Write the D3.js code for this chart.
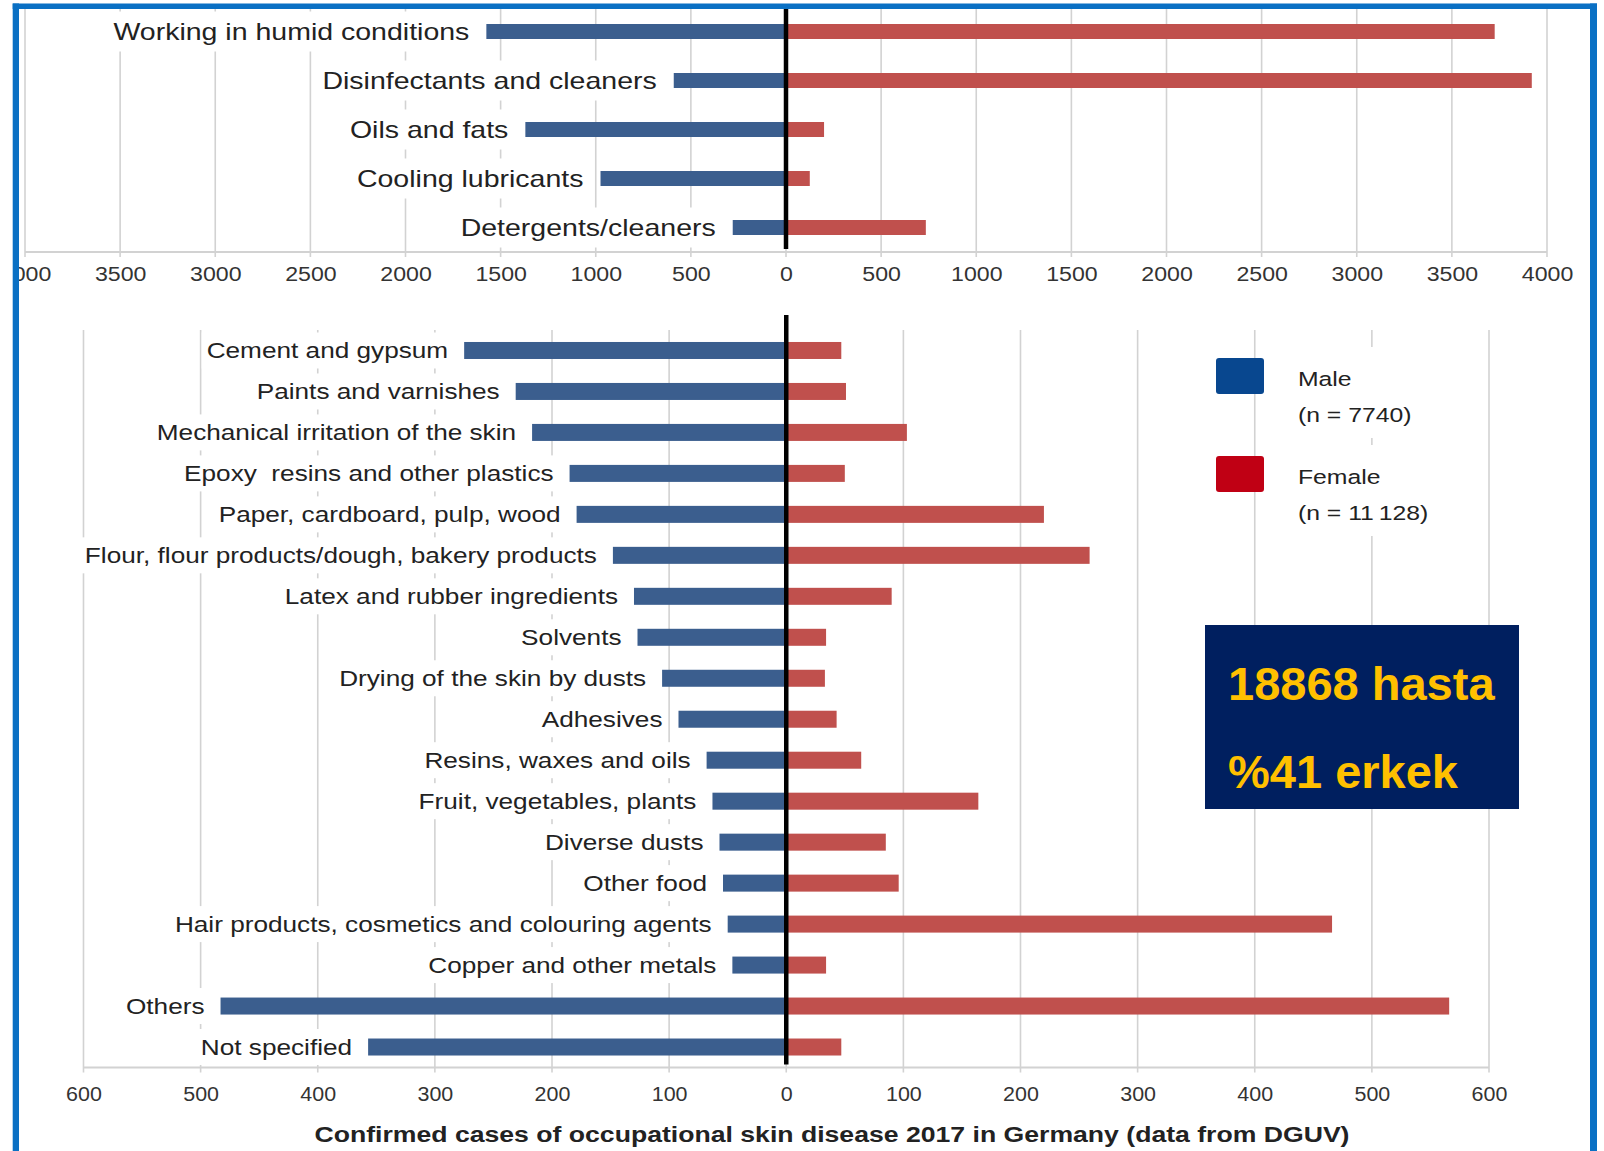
<!DOCTYPE html>
<html>
<head>
<meta charset="utf-8">
<script src="https://cdn.jsdelivr.net/npm/d3@7/dist/d3.min.js"></script>
<style>
  html, body { margin: 0; padding: 0; background: #fff; }
  svg { display: block; font-family: "Liberation Sans", Arial, sans-serif; }
</style>
</head>
<body>
<svg id="chart" width="1604" height="1151"></svg>
<script>
// ---------- DATA ----------
const topCategories = [
  "Working in humid conditions",
  "Disinfectants and cleaners",
  "Oils and fats",
  "Cooling lubricants",
  "Detergents/cleaners"
];
const topMale   = [1575, 590, 1370, 975, 280];
const topFemale = [3725, 3920, 200, 125, 735];
const topTicks  = [-4000,-3500,-3000,-2500,-2000,-1500,-1000,-500,0,500,1000,1500,2000,2500,3000,3500,4000];

const bottomCategories = [
  "Cement and gypsum",
  "Paints and varnishes",
  "Mechanical irritation of the skin",
  "Epoxy  resins and other plastics",
  "Paper, cardboard, pulp, wood",
  "Flour, flour products/dough, bakery products",
  "Latex and rubber ingredients",
  "Solvents",
  "Drying of the skin by dusts",
  "Adhesives",
  "Resins, waxes and oils",
  "Fruit, vegetables, plants",
  "Diverse dusts",
  "Other food",
  "Hair products, cosmetics and colouring agents",
  "Copper and other metals",
  "Others",
  "Not specified"
];
const bottomMale   = [275, 231, 217, 185, 179, 148, 130, 127, 106, 92, 68, 63, 57, 54, 50, 46, 483, 357];
const bottomFemale = [47, 51, 103, 50, 220, 259, 90, 34, 33, 43, 64, 164, 85, 96, 466, 34, 566, 47];
const bottomTicks  = [-600,-500,-400,-300,-200,-100,0,100,200,300,400,500,600];

const legendLabels = ["Male", "Female"];
const legendCounts = ["(n = 7740)", "(n = 11\u2009128)"];
const summaryLines = ["18868 hasta", "%41 erkek"];
const xTitle = "Confirmed cases of occupational skin disease 2017 in Germany (data from DGUV)";

// ---------- STYLE ----------
const MALE = "#3b5e8e", FEMALE = "#c0504d";
const LEG_MALE = "#08478f", LEG_FEMALE = "#c00014";
const GRID = "#d2d2d2", TEXT = "#222";

const svg = d3.select("#chart");
svg.append("rect").attr("width", 1604).attr("height", 1151).attr("fill", "#fff");

svg.append("defs").append("clipPath").attr("id", "inner")
  .append("rect").attr("x", 19).attr("y", 9).attr("width", 1571).attr("height", 1142);

const root = svg.append("g").attr("clip-path", "url(#inner)");

function panel(cfg) {
  const g = root.append("g");
  const x = d3.scaleLinear().domain(cfg.domain).range(cfg.xRange);
  const pi = 1 - cfg.barH / ((cfg.yRange[1] - cfg.yRange[0]) / cfg.cats.length);
  const y = d3.scaleBand().domain(cfg.cats).range(cfg.yRange).paddingInner(pi).paddingOuter(pi / 2);
  const axisY = cfg.yRange[1];

  // gridlines
  g.append("g").selectAll("line").data(cfg.ticks).join("line")
    .attr("x1", d => x(d)).attr("x2", d => x(d))
    .attr("y1", cfg.gridTop).attr("y2", axisY + 5)
    .attr("stroke", GRID).attr("stroke-width", 1.6);

  // axis baseline
  g.append("line").attr("x1", x(cfg.domain[0])).attr("x2", x(cfg.domain[1]))
    .attr("y1", axisY).attr("y2", axisY).attr("stroke", GRID).attr("stroke-width", 2);

  // category labels with white backgrounds
  const lab = g.append("g").selectAll("g").data(cfg.cats).join("g")
    .attr("transform", (d, i) => `translate(${x(-cfg.male[i]) - cfg.gap},${y(d) + y.bandwidth() / 2})`);
  const bgs = lab.append("rect").attr("fill", "#fff");
  const txt = lab.append("text")
    .attr("text-anchor", "end").attr("dy", "0.36em")
    .attr("transform", `scale(${cfg.sx},1)`)
    .attr("font-size", cfg.fs).attr("fill", TEXT)
    .style("white-space", "pre")
    .text(d => d);
  txt.each(function(d, i) {
    const w = this.getBBox().width * cfg.sx;
    d3.select(bgs.nodes()[i])
      .attr("x", -w - 5).attr("width", w + 10)
      .attr("y", -cfg.bgH / 2).attr("height", cfg.bgH);
  });

  // bars
  g.append("g").selectAll("rect").data(cfg.cats).join("rect")
    .attr("x", (d, i) => x(-cfg.male[i])).attr("width", (d, i) => x(0) - x(-cfg.male[i]))
    .attr("y", d => y(d)).attr("height", y.bandwidth()).attr("fill", MALE);
  g.append("g").selectAll("rect").data(cfg.cats).join("rect")
    .attr("x", x(0)).attr("width", (d, i) => x(cfg.female[i]) - x(0))
    .attr("y", d => y(d)).attr("height", y.bandwidth()).attr("fill", FEMALE);

  // zero line
  g.append("line").attr("x1", x(0)).attr("x2", x(0))
    .attr("y1", cfg.zeroTop).attr("y2", axisY - 3)
    .attr("stroke", "#000").attr("stroke-width", 4.5);

  // tick labels via d3 axis
  const ax = g.append("g").attr("transform", `translate(0,${axisY})`)
    .call(d3.axisBottom(x).tickValues(cfg.ticks).tickSize(0).tickPadding(cfg.tickPad)
      .tickFormat(d => String(Math.abs(d))));
  ax.select(".domain").remove();
  ax.selectAll("text").attr("font-size", cfg.tickFs).attr("fill", "#333")
    .attr("font-family", "Liberation Sans, Arial, sans-serif")
    .attr("transform", `scale(${cfg.tickSx},1)`);
  return { x, y };
}

panel({
  cats: topCategories, male: topMale, female: topFemale, ticks: topTicks,
  domain: [-4000, 4000], xRange: [25, 1547], yRange: [7, 252], barH: 15,
  gridTop: 9, zeroTop: 9, gap: 17, fs: 23, sx: 1.24, bgH: 40,
  tickFs: 20.5, tickSx: 1.13, tickPad: 14
});

panel({
  cats: bottomCategories, male: bottomMale, female: bottomFemale, ticks: bottomTicks,
  domain: [-600, 600], xRange: [83.5, 1489], yRange: [330, 1067.5], barH: 17,
  gridTop: 330, zeroTop: 315, gap: 16, fs: 22, sx: 1.19, bgH: 36,
  tickFs: 19.5, tickSx: 1.1, tickPad: 20
});

// x title
root.append("text")
  .attr("transform", "translate(832,1142) scale(1.21,1)")
  .attr("text-anchor", "middle").attr("font-weight", "bold")
  .attr("font-size", 22).attr("fill", TEXT).text(xTitle);

// legend
const legColors = [LEG_MALE, LEG_FEMALE];
const leg = root.append("g").selectAll("g").data(legendLabels).join("g")
  .attr("transform", (d, i) => `translate(1216,${358 + i * 98})`);
leg.append("rect").attr("x", 74).attr("y", -11).attr("width", 150).attr("height", 91).attr("fill", "#fff");
leg.append("rect").attr("width", 48).attr("height", 36).attr("rx", 3).attr("fill", (d, i) => legColors[i]);
leg.append("text").attr("transform", "translate(82,27.7) scale(1.27,1)")
  .attr("font-size", 19.5).attr("fill", TEXT).text(d => d);
leg.append("text").attr("transform", "translate(82,63.7) scale(1.27,1)")
  .attr("font-size", 19.5).attr("fill", TEXT).text((d, i) => legendCounts[i]);

// summary box
const box = root.append("g").attr("transform", "translate(1205,625)");
box.append("rect").attr("width", 314).attr("height", 184).attr("fill", "#001f5f");
box.selectAll("text").data(summaryLines).join("text")
  .attr("x", 23).attr("y", (d, i) => 75 + i * 88)
  .attr("font-size", 47).attr("font-weight", "bold").attr("fill", "#ffc000")
  .text(d => d);

// blue frame
const BLUE = "#0a70c4";
svg.append("rect").attr("x", 12.7).attr("y", 3.5).attr("width", 1584.3).attr("height", 5.5).attr("fill", BLUE);
svg.append("rect").attr("x", 12.7).attr("y", 3.5).attr("width", 6.3).attr("height", 1148).attr("fill", BLUE);
svg.append("rect").attr("x", 1590).attr("y", 3.5).attr("width", 7).attr("height", 1148).attr("fill", BLUE);
</script>
</body>
</html>
